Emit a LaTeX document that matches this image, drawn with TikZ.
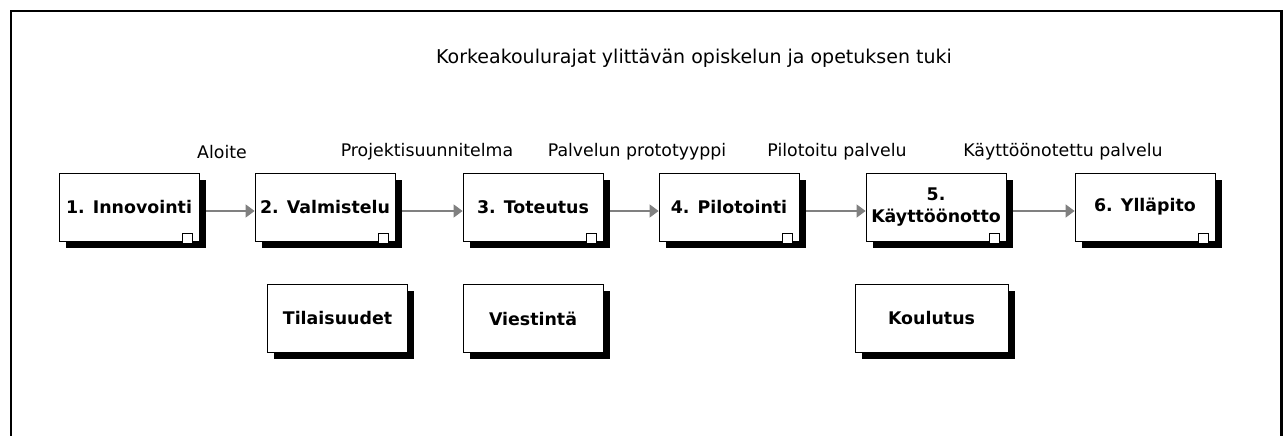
\documentclass[tikz,border=0pt]{standalone}
\usepackage{fontspec}
\setmainfont{DejaVu Sans}
\usetikzlibrary{arrows.meta}
\usetikzlibrary{shadows}
\usetikzlibrary{calc}
\tikzset{
  phasebox/.style={draw=black, line width=0.8pt, fill=white,
    minimum width=140pt, minimum height=68pt, inner sep=2pt, align=center,
    font=\fontsize{17.4}{22}\selectfont\bfseries,
    drop shadow={shadow xshift=6.5pt, shadow yshift=-6.5pt, fill=black, opacity=1}},
  fold/.style={draw=black, line width=0.8pt, fill=white},
  flow/.style={draw=gray, line width=1.3pt, -{Triangle[length=9pt,width=13pt]}},
  result/.style={font=\fontsize{17.35}{20}\selectfont, inner sep=0pt}
}
\begin{document}
\begin{tikzpicture}[x=1pt,y=-1pt]
    \useasboundingbox (0,0) rectangle (1285,436);
    \clip (0,0) rectangle (1285,436);
    \fill[white] (0,0) rectangle (1285,436);
    % outer frame, open at the bottom of the page
    \draw[line width=2.5pt] (11,11) rectangle (1281.5,470);
    \node[result, font=\fontsize{19}{22}\selectfont] (title) at (694,58) {Korkeakoulurajat ylittävän opiskelun ja opetuksen tuki};
    % phases
    \node[phasebox] (b1) at (129,207) {1. Innovointi};
    \node[phasebox] (b2) at (325,207) {2. Valmistelu};
    \node[phasebox] (b3) at (533,207) {3. Toteutus};
    \node[phasebox] (b4) at (729,207) {4. Pilotointi};
    \node[phasebox] (b5) at (936,207) {5.\\Käyttöönotto};
    \node[phasebox] (b6) at (1145,207) {6. Ylläpito};
    \foreach \n in {b1,b2,b3,b4,b5,b6}
    	\draw[fold] ($(\n.south east)+(-17,-8)$) rectangle ++(10,10);
    % supporting activities
    \node[phasebox] (s1) at (337.5,318.5) {Tilaisuudet};
    \node[phasebox] (s2) at (533,318.5) {Viestintä};
    \node[phasebox, minimum width=153pt] (s3) at (931.5,318.5) {Koulutus};
    % results between phases
    \node[result] (l1) at (222,152) {Aloite};
    \node[result] (l2) at (427,152) {Projektisuunnitelma};
    \node[result] (l3) at (637,152) {Palvelun prototyyppi};
    \node[result] (l4) at (837,152) {Pilotoitu palvelu};
    \node[result] (l5) at (1063,152) {Käyttöönotettu palvelu};
    \foreach \a/\b in {b1/b2,b2/b3,b3/b4,b4/b5,b5/b6}
    	\draw[flow] ([xshift=7pt,yshift=-4pt]\a.east) -- ([yshift=-4pt]\b.west);
\end{tikzpicture}
\end{document}
